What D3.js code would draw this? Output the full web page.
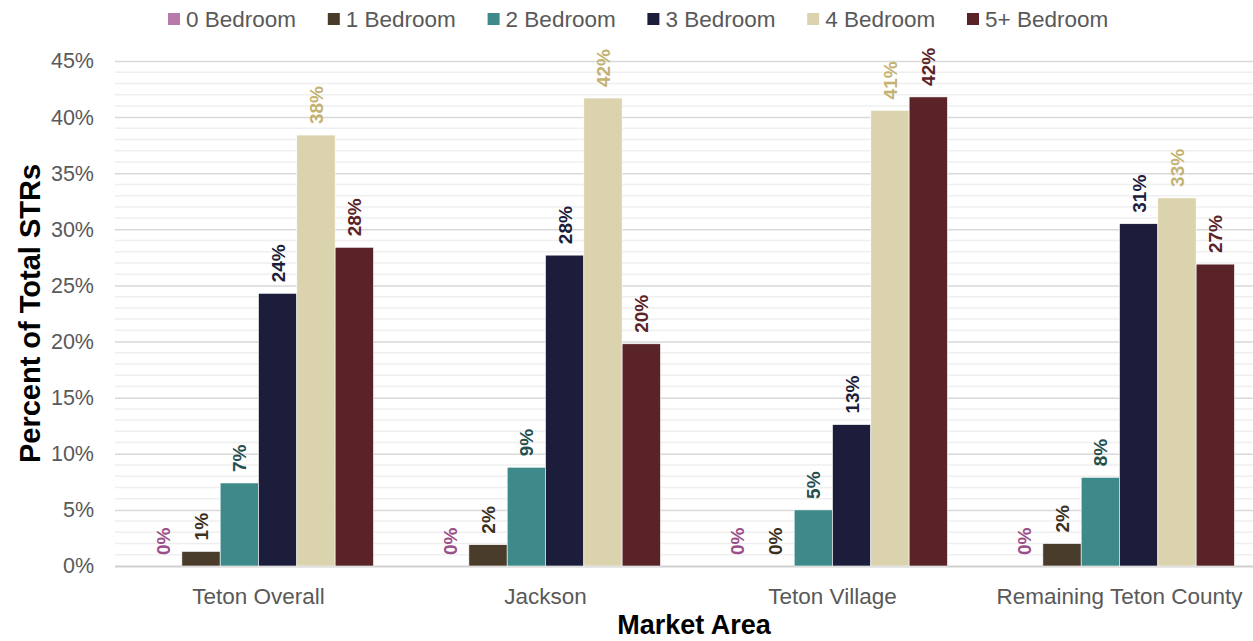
<!DOCTYPE html>
<html>
<head>
<meta charset="utf-8">
<script src="https://cdn.jsdelivr.net/npm/d3@7"></script>
<style>
  body { margin: 0; background: #fff; }
  svg { display: block; font-family: "Liberation Sans", Arial, sans-serif; }
</style>
</head>
<body>
<svg id="chart" width="1253" height="641"></svg>
<script>
const areas = ["Teton Overall", "Jackson", "Teton Village", "Remaining Teton County"];
const bedrooms = ["0 Bedroom", "1 Bedroom", "2 Bedroom", "3 Bedroom", "4 Bedroom", "5+ Bedroom"];
const bed0 = [0, 0, 0, 0];
const bed1 = [1.3, 1.9, 0, 2.0];
const bed2 = [7.4, 8.8, 5.0, 7.9];
const bed3 = [24.3, 27.7, 12.6, 30.5];
const bed4 = [38.4, 41.7, 40.6, 32.8];
const bed5 = [28.4, 19.8, 41.8, 26.9];
const barColors = ["#b87aa8", "#4a3c2a", "#3e8a8a", "#1c1d3b", "#dbd3ad", "#5a2328"];
const labelColors = ["#9b4f88", "#3a2f20", "#24504e", "#1c1d3b", "#c4b272", "#5a2328"];
const yTicks = [0, 5, 10, 15, 20, 25, 30, 35, 40, 45];

const series = [bed0, bed1, bed2, bed3, bed4, bed5];
const rows = [];
areas.forEach((a, i) => {
    bedrooms.forEach((b, j) => rows.push({ area: a, bed: b, k: j, value: series[j][i] }));
});

const svg = d3.select("#chart");
const plotLeft = 115, plotRight = 1263, plotTop = 61, plotBottom = 566;

const x0 = d3.scaleBand().domain(areas).range([plotLeft, plotRight]).paddingInner(0).paddingOuter(0);
const x1 = d3.scaleBand().domain(bedrooms).range([0, x0.bandwidth()]).paddingInner(0).paddingOuter(0.745);
const y = d3.scaleLinear().domain([0, 45]).range([plotBottom, plotTop]);

// minor gridlines every 1%
svg.append("g")
    .selectAll("line")
    .data(d3.range(1, 46).filter(v => v % 5 !== 0))
    .enter().append("line")
    .attr("x1", plotLeft).attr("x2", plotRight)
    .attr("y1", d => y(d)).attr("y2", d => y(d))
    .attr("stroke", "#efefef").attr("stroke-width", 1.5);

svg.append("g")
    .attr("transform", `translate(${plotLeft},0)`)
    .call(d3.axisLeft(y).tickValues(yTicks).tickSize(-(plotRight - plotLeft)).tickFormat(d => d + "%"))
    .call(g => g.select(".domain").remove())
    .call(g => g.selectAll(".tick line").attr("stroke", d => d === 0 ? "#d0d0d0" : "#d9d9d9").attr("stroke-width", d => d === 0 ? 2 : 1.5))
    .call(g => g.selectAll(".tick text")
        .attr("x", -21)
        .style("font-size", "21.5px")
        .style("font-family", "Liberation Sans, Arial, sans-serif")
        .attr("fill", "#595959"));

// bars
const groups = svg.append("g")
    .selectAll("g")
    .data(areas)
    .enter().append("g")
    .attr("transform", d => `translate(${x0(d)},0)`);

groups.selectAll("rect")
    .data(a => rows.filter(r => r.area === a))
    .enter().append("rect")
    .attr("x", d => x1(d.bed))
    .attr("y", d => y(d.value))
    .attr("width", x1.bandwidth())
    .attr("height", d => y(0) - y(d.value))
    .attr("fill", d => barColors[d.k])
    .attr("stroke", "#ffffff")
    .attr("stroke-width", 0.6);

groups.selectAll("text")
    .data(a => rows.filter(r => r.area === a))
    .enter().append("text")
    .attr("transform", d => `translate(${x1(d.bed) + x1.bandwidth() / 2 + 7},${y(d.value) - 11}) rotate(-90)`)
    .attr("text-anchor", "start")
    .style("font-size", "19px")
    .style("font-weight", "bold")
    .attr("fill", d => labelColors[d.k])
    .text(d => Math.round(d.value) + "%");

// category labels
svg.append("g")
    .selectAll("text")
    .data(areas)
    .enter().append("text")
    .attr("x", d => x0(d) + x0.bandwidth() / 2)
    .attr("y", 604)
    .attr("text-anchor", "middle")
    .style("font-size", "22.5px")
    .attr("fill", "#595959")
    .text(d => d);

// axis titles
svg.append("text")
    .attr("x", 694)
    .attr("y", 634)
    .attr("text-anchor", "middle")
    .style("font-size", "27px")
    .style("font-weight", "bold")
    .attr("fill", "#000")
    .text("Market Area");

svg.append("text")
    .attr("transform", `translate(40,${(plotTop + plotBottom) / 2}) rotate(-90)`)
    .attr("text-anchor", "middle")
    .style("font-size", "29px")
    .style("font-weight", "bold")
    .attr("fill", "#000")
    .text("Percent of Total STRs");

// legend
const legend = svg.append("g")
    .selectAll("g")
    .data(bedrooms)
    .enter().append("g")
    .attr("transform", (d, i) => `translate(${168 + i * 159.8},0)`);

legend.append("rect")
    .attr("x", 0).attr("y", 13)
    .attr("width", 12).attr("height", 12)
    .attr("fill", (d, i) => barColors[i]);

legend.append("text")
    .attr("x", 18).attr("y", 27)
    .style("font-size", "22.5px")
    .attr("fill", "#595959")
    .text(d => d);
</script>
</body>
</html>
